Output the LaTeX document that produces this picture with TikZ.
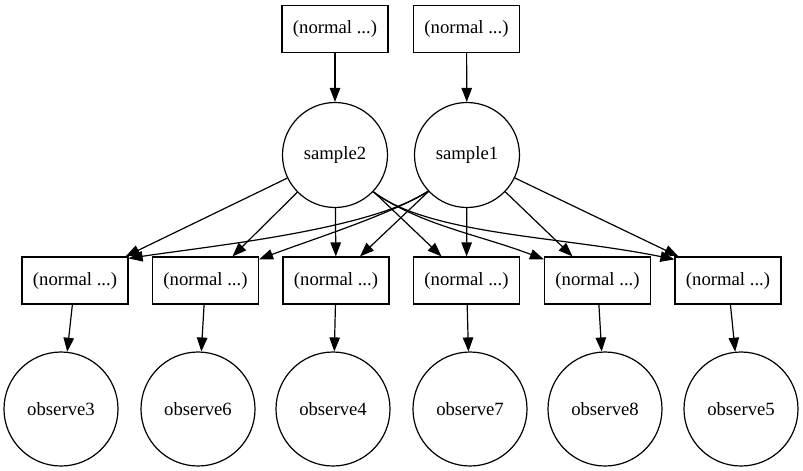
\documentclass[tikz,border=0pt]{standalone}
\usepackage{fontspec}
\setmainfont{Liberation Serif}
\usetikzlibrary{arrows.meta}
\begin{document}
\begin{tikzpicture}[x=1pt,y=-1pt,line width=1.2pt,
  >={Triangle[length=14pt,width=10.5pt]},
  txt/.style={font=\fontsize{18.7pt}{22pt}\selectfont},
  box/.style={draw,rectangle,minimum width=106pt,minimum height=47pt,inner sep=0pt,txt},
  smp/.style={draw,circle,minimum size=105pt,inner sep=0pt,txt},
  obs/.style={draw,circle,minimum size=114pt,inner sep=0pt,txt}]
\useasboundingbox (0,0) rectangle (803,471);
% top boxes
\node[box] (t1) at (335,29) {(normal ...)};
\node[box] (t2) at (466.5,29) {(normal ...)};
% samples
\node[smp] (sample2) at (335,155) {sample2};
\node[smp] (sample1) at (467,155) {sample1};
% middle boxes
\node[box] (nA) at (75,280.5) {(normal ...)};
\node[box] (nB) at (205.5,280.5) {(normal ...)};
\node[box] (nC) at (336,280.5) {(normal ...)};
\node[box] (nD) at (466.5,280.5) {(normal ...)};
\node[box] (nE) at (597.5,280.5) {(normal ...)};
\node[box] (nF) at (728,280.5) {(normal ...)};
% observations
\node[obs] (o3) at (61,409) {observe3};
\node[obs] (o6) at (198,409) {observe6};
\node[obs] (o4) at (333,409) {observe4};
\node[obs] (o7) at (470,409) {observe7};
\node[obs] (o8) at (605,409) {observe8};
\node[obs] (o5) at (741,409) {observe5};
% top edges
\draw[->] (t1) -- (sample2);
\draw[->] (t2) -- (sample1);
% sample2 edges
\draw[->] (sample2) -- ([xshift=-3pt]nA.north east);
\draw[->] (sample2) -- ([xshift=27pt]nB.north);
\draw[->] (sample2) -- (nC);
\draw[->] (sample2) -- ([xshift=-25pt]nD.north);
\draw[->] (sample2.-44) .. controls (420,225) and (480,235) .. ([yshift=-3pt]nE.north west);
\draw[->] (sample2.-44) .. controls (430,235) and (560,236) .. ([yshift=-3pt]nF.north west);
% sample1 edges
\draw[->] (sample1.223) .. controls (370,230) and (210,246) .. ([yshift=-2pt]nA.north east);
\draw[->] (sample1.223) .. controls (390,215) and (310,240) .. ([yshift=-3pt]nB.north east);
\draw[->] (sample1) -- ([xshift=24pt]nC.north);
\draw[->] (sample1) -- (nD);
\draw[->] (sample1) -- ([xshift=-25pt]nE.north);
\draw[->] (sample1) -- ([xshift=4pt]nF.north west);
% box to observation
\draw[->] (nA) -- (o3);
\draw[->] (nB) -- (o6);
\draw[->] (nC) -- (o4);
\draw[->] (nD) -- (o7);
\draw[->] (nE) -- (o8);
\draw[->] (nF) -- (o5);
\end{tikzpicture}
\end{document}
